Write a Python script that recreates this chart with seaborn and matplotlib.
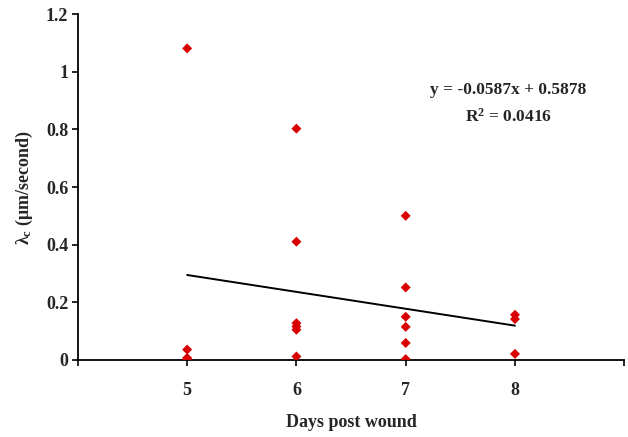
import matplotlib
matplotlib.use("Agg")
import matplotlib.pyplot as plt
import seaborn as sns
import numpy as np
import pandas as pd

days = [5, 5, 5, 5,
        6, 6, 6, 6, 6, 6,
        7, 7, 7, 7, 7, 7,
        8, 8, 8]
lambda_c = [1.082, 0.035, 0.006, 0.002,
            0.803, 0.410, 0.127, 0.115, 0.104, 0.011,
            0.500, 0.251, 0.149, 0.114, 0.058, 0.002,
            0.156, 0.141, 0.020]
trend_slope = -0.0587
trend_intercept = 0.5878
r_squared = 0.0416
x_ticks = [5, 6, 7, 8]
y_ticks = [0, 0.2, 0.4, 0.6, 0.8, 1.0, 1.2]
y_tick_labels = ["0", "0.2", "0.4", "0.6", "0.8", "1", "1.2"]

sns.set_theme(style="white")
plt.rcParams['font.family'] = ['Liberation Serif', 'DejaVu Serif']
plt.rcParams['mathtext.fontset'] = 'custom'
plt.rcParams['mathtext.rm'] = 'Liberation Serif:bold'
plt.rcParams['mathtext.it'] = 'Liberation Serif:bold'
plt.rcParams['mathtext.bf'] = 'Liberation Serif:bold'

df = pd.DataFrame({"day": days, "val": lambda_c})
trend_x = np.array([5, 8])
trend_df = pd.DataFrame({"x": trend_x, "y": trend_slope * trend_x + trend_intercept})

fig = plt.figure(figsize=(6.28, 4.37), dpi=100)
ax = fig.add_axes([0.124, 0.177, 0.870, 0.790])

sns.lineplot(data=trend_df, x="x", y="y", color="black", linewidth=1.4, ax=ax)
sns.scatterplot(data=df, x="day", y="val", marker="D", color="#d80000",
                edgecolor="none", s=26, ax=ax, zorder=3)

ax.set_xlim(4, 9)
ax.set_ylim(0, 1.2)
ax.set_xticks([4] + x_ticks + [9])
ax.set_xticklabels([""] + [str(t) for t in x_ticks] + [""])
ax.set_yticks(y_ticks)
ax.set_yticklabels(y_tick_labels)
for lbl in ax.get_xticklabels() + ax.get_yticklabels():
    lbl.set_fontweight("bold")
    lbl.set_fontsize(13)

ax.tick_params(axis="both", direction="out", length=4, width=1.2, color="black",
               bottom=True, left=True)
ax.tick_params(axis="x", pad=12)
ax.tick_params(axis="y", pad=3)

for side in ["top", "right"]:
    ax.spines[side].set_visible(False)
for side in ["left", "bottom"]:
    ax.spines[side].set_color("black")
    ax.spines[side].set_linewidth(1.3)

ax.set_xlabel("Days post wound", fontsize=13, fontweight="bold", labelpad=11)
ax.set_ylabel(r"λ$_\mathrm{c}$ (μm/second)", fontsize=13, fontweight="bold", labelpad=8)

ax.text(7.94, 0.937, f"y = {trend_slope:.4f}x + {trend_intercept:.4f}",
        ha="center", va="center", fontsize=12.5, fontweight="bold")
ax.text(7.94, 0.846, r"R$^2$ = " + f"{r_squared:.4f}",
        ha="center", va="center", fontsize=12.5, fontweight="bold")

fig.savefig("out.png", dpi=100)
